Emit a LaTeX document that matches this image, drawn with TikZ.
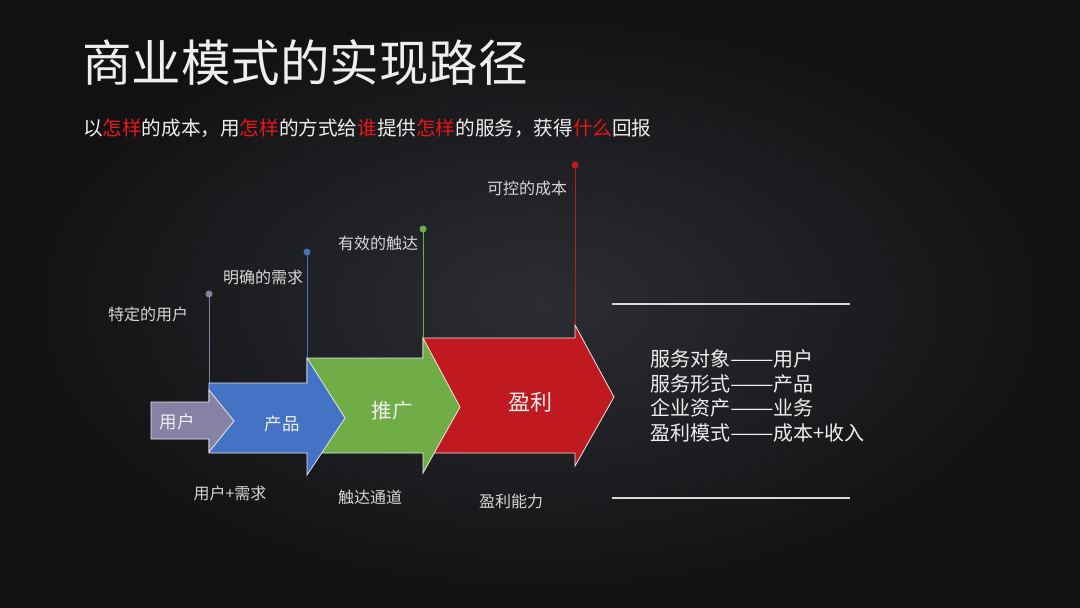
\documentclass[tikz,border=0pt]{standalone}
\usepackage{fontspec}
\setmainfont{Noto Sans CJK SC}
\usetikzlibrary{calc}
\definecolor{bgin}{RGB}{44,45,50}
\definecolor{bgout}{RGB}{17,17,19}
\definecolor{userc}{RGB}{134,130,166}
\definecolor{prodc}{RGB}{68,114,196}
\definecolor{promc}{RGB}{112,173,71}
\definecolor{profc}{RGB}{192,26,32}
\definecolor{hilite}{RGB}{232,22,22}
\definecolor{txt}{RGB}{238,238,238}
\definecolor{soft}{RGB}{214,214,214}
\newcommand{\longdash}{\scalebox{1.3}[1]{——}}
\tikzset{arrowbox/.style={draw=white!82!gray,line width=0.8pt,line join=miter}}
\tikzset{pinlabel/.style={text=soft,inner sep=0pt,font=\fontsize{16}{18}\selectfont}}
\tikzset{rule/.style={draw=white!70!gray,line width=1.2pt}}

\begin{document}
\begin{tikzpicture}[x=1pt,y=-1pt]
\useasboundingbox (0,0) rectangle (1080,608);
\shade[inner color=bgin,outer color=bgout] (0,0) rectangle (1080,608);
\node[anchor=west,inner sep=0pt,text=txt,font=\fontsize{49.5}{56}\selectfont] (title) at (82,63) {商业模式的实现路径};
\node[anchor=west,inner sep=0pt,text=txt,font=\fontsize{19.6}{22}\selectfont] (motto) at (83,128) {以\textcolor{hilite}{怎样}的成本，用\textcolor{hilite}{怎样}的方式给\textcolor{hilite}{谁}提供\textcolor{hilite}{怎样}的服务，获得\textcolor{hilite}{什么}回报};
% arrows, back to front
\filldraw[arrowbox,fill=profc] (423,338) -- (575,338) -- (575,325) -- (614,397) -- (575,466) -- (575,453) -- (423,453) -- cycle;
\filldraw[arrowbox,fill=promc] (307,358) -- (423,358) -- (423,338) -- (460,407) -- (423,473) -- (423,453) -- (307,453) -- cycle;
\filldraw[arrowbox,fill=prodc] (209,383) -- (307,383) -- (307,358) -- (345,418) -- (307,475) -- (307,453) -- (209,453) -- cycle;
\filldraw[arrowbox,fill=userc] (151,402) -- (209,402) -- (209,390) -- (234,421) -- (209,452) -- (209,439) -- (151,439) -- cycle;
\node[text=txt,font=\fontsize{17.5}{20}\selectfont] (user) at (177,422) {用户};
\node[text=txt,font=\fontsize{17.5}{20}\selectfont] (prod) at (282,424) {产品};
\node[text=txt,font=\fontsize{20.5}{23}\selectfont] (prom) at (392,411) {推广};
\node[text=txt,font=\fontsize{22}{25}\selectfont] (prof) at (530,402) {盈利};
% pins
\coordinate (userdot) at (209,294);
\coordinate (userpin) at (209,383);
\coordinate (proddot) at (307,252);
\coordinate (prodpin) at (307,358);
\coordinate (promdot) at (423,229);
\coordinate (prompin) at (423,338);
\coordinate (profdot) at (575,165);
\coordinate (profpin) at (575,325);
\draw[userc,line width=1pt] (userdot) -- (userpin);
\draw[prodc,line width=1pt] (proddot) -- (prodpin);
\draw[promc,line width=1pt] (promdot) -- (prompin);
\draw[profc,line width=1pt] (profdot) -- (profpin);
\fill[userc] (userdot) circle (3.5);
\fill[prodc] (proddot) circle (3.5);
\fill[promc] (promdot) circle (3.5);
\fill[profc] (profdot) circle (3.5);
\node[pinlabel] (usertop) at (148,314) {特定的用户};
\node[pinlabel] (prodtop) at (263,277) {明确的需求};
\node[pinlabel] (promtop) at (378,243) {有效的触达};
\node[pinlabel] (proftop) at (527,188) {可控的成本};
\node[pinlabel] (prodlow) at (230,493) {用户+需求};
\node[pinlabel] (promlow) at (370,497) {触达通道};
\node[pinlabel] (proflow) at (511,501) {盈利能力};
% summary
\coordinate (ruleA) at (612,304);
\coordinate (ruleB) at (850,304);
\coordinate (ruleC) at (612,498);
\coordinate (ruleD) at (850,498);
\draw[rule] (ruleA) -- (ruleB);
\draw[rule] (ruleC) -- (ruleD);
\node[anchor=west,inner sep=0pt,align=left,text=txt,font=\fontsize{20}{24.6}\selectfont] (summary) at (650,396) {服务对象\longdash 用户\\服务形式\longdash 产品\\企业资产\longdash 业务\\盈利模式\longdash 成本+收入};
\end{tikzpicture}
\end{document}
